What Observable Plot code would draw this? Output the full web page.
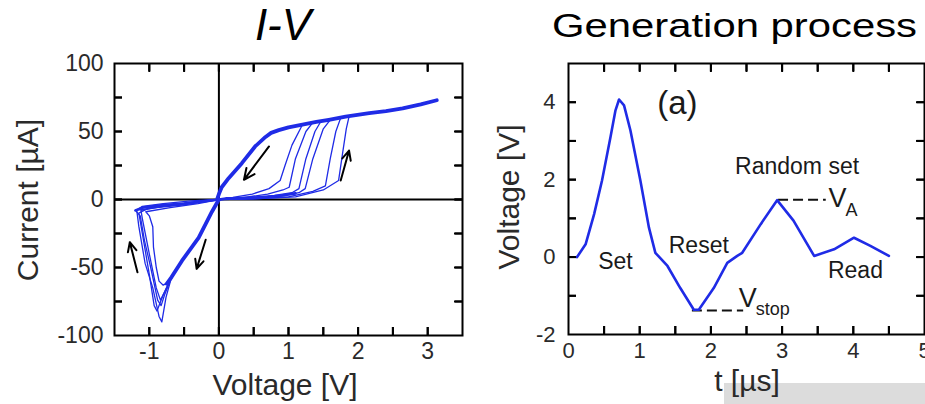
<!DOCTYPE html>
<html><head><meta charset="utf-8">
<script src="https://cdn.jsdelivr.net/npm/d3@7"></script>
<script src="https://cdn.jsdelivr.net/npm/@observablehq/plot@0.6"></script>
<style>
html,body{margin:0;padding:0;background:#fff;}
#wrap{position:relative;width:925px;height:404px;overflow:hidden;background:#fff;font-family:"Liberation Sans",Arial,Helvetica,sans-serif;}
.abs{position:absolute;}
.lbl{position:absolute;white-space:nowrap;color:#2a2a2a;font-size:30px;line-height:30px;transform:translate(-50%,-50%);}
.rot{transform:translate(-50%,-50%) rotate(-90deg);}
</style></head><body>
<div id="wrap">
  <div class="abs" style="left:724px;top:383px;width:201px;height:21px;background:#dcdcdc"></div>
  <svg class="abs" style="left:0;top:0" width="925" height="52">
    <text x="283" y="40" font-family="Liberation Sans, Arial, sans-serif" font-style="italic" font-size="44" text-anchor="middle" fill="#000">I-V</text>
    <text x="552" y="37" font-family="Liberation Sans, Arial, sans-serif" font-size="34" textLength="365" lengthAdjust="spacingAndGlyphs" fill="#000">Generation process</text>
  </svg>
  <div id="left" class="abs" style="left:0;top:40px"></div>
  <div id="right" class="abs" style="left:480px;top:40px"></div>
  <div class="lbl rot" style="left:28px;top:200px">Current [µA]</div>
  <div class="lbl" style="left:285px;top:385px">Voltage [V]</div>
  <div class="lbl rot" style="left:509px;top:197px">Voltage [V]</div>
  <div class="lbl" style="left:747px;top:381px">t [µs]</div>
</div>
<script>
// ---------- Left panel: I-V hysteresis (V in volts, I in µA) ----------
const upperBranch = [[3.13,73],[2.9,70],[2.64,67],[2.4,65],[2.16,63.5],[1.82,61],[1.58,58.6],[1.4,57],[1.2,55],[1.0,53],[0.86,51],[0.75,49],[0.67,46],[0.52,39],[0.33,26.7],[0.14,15.7],[0.04,9],[0,4],[-0.02,1],[0,0]];
const lowBranch = [[0,0],[0.1,0.8],[0.3,1],[0.5,1.5],[0.7,2],[0.9,3],[1.1,4.5]];
const negDiagonal = [[0,0],[-0.1,-9],[-0.29,-28],[-0.53,-45],[-0.68,-57],[-0.75,-62]];
const negReturn = [[-1.2,-8],[-1.1,-6],[-0.8,-4],[-0.5,-3],[-0.25,-1.5],[0,0]];

const setLoop1 = [[0,0],[0.2,1.5],[0.48,4],[0.72,8],[0.88,14],[0.95,25],[1.05,40],[1.2,55]];
const setLoop2 = [[0,0],[0.3,1],[0.7,4],[0.92,7],[1.01,9],[1.1,30],[1.25,50],[1.34,56]];
const setLoop3 = [[0,0],[0.4,1],[0.8,3],[1.05,5],[1.15,8],[1.25,30],[1.38,50],[1.46,57]];
const setLoop4 = [[0,0],[0.5,1],[0.9,2.5],[1.15,5],[1.24,8],[1.35,30],[1.5,52],[1.6,58.6]];
const setLoop5 = [[0,0],[0.5,0.5],[1.0,2],[1.35,6],[1.53,10],[1.6,30],[1.68,50],[1.75,60]];
const setLoop6 = [[0,0],[0.5,0.5],[1.1,2],[1.5,7],[1.72,14],[1.78,35],[1.83,52],[1.87,61]];

const resetLoop1 = [[-0.68,-57],[-0.76,-72],[-0.82,-90],[-0.86,-86],[-0.95,-65],[-1.06,-47],[-1.15,-20],[-1.18,-8],[-1.1,-5],[-0.8,-3],[-0.4,-1],[0,0]];
const resetLoop2 = [[-0.68,-57],[-0.8,-70],[-0.89,-82],[-0.93,-78],[-1.0,-55],[-1.1,-25],[-1.15,-10],[-1.0,-6],[-0.6,-4],[0,0]];
const resetLoop3 = [[-0.68,-57],[-0.78,-68],[-0.84,-74],[-0.9,-65],[-1.0,-40],[-1.1,-14],[-1.12,-8],[-0.8,-5],[-0.4,-2],[0,0]];
const resetLoop4 = [[-0.7,-60],[-0.8,-63],[-0.86,-60],[-0.9,-50],[-0.94,-35],[-0.95,-20],[-1.0,-12],[-1.05,-9],[-0.7,-6],[-0.3,-3],[0,0]];
const resetLoop5 = [[-0.7,-60],[-0.78,-70],[-0.83,-78],[-0.88,-74],[-0.98,-50],[-1.07,-30],[-1.13,-12],[-1.2,-8],[-0.9,-6],[-0.5,-4],[0,0]];

const arrowStartV = [0.72,1.75,-1.17,-0.19];
const arrowStartI = [39,14,-53.5,-29.6];
const arrowEndV = [0.36,1.87,-1.28,-0.32];
const arrowEndI = [14.5,36,-31.4,-51];

const leftTicksX = [-1,-0.5,0,0.5,1,1.5,2,2.5,3];
const leftLabelsX = [-1,0,1,2,3];
const leftTicksY = [-75,-50,-25,0,25,50,75];
const leftLabelsY = [-100,-50,0,50,100];

// ---------- Right panel: generation pulse ----------
const pulseT = [0.12,0.24,0.36,0.47,0.59,0.66,0.71,0.78,0.87,1.01,1.13,1.22,1.39,1.57,1.76,1.83,2.04,2.23,2.37,2.44,2.70,2.93,3.16,3.45,3.73,4.01,4.24,4.5];
const pulseV = [0,0.33,1.11,1.97,3.1,3.79,4.07,3.92,3.27,1.97,0.76,0.11,-0.23,-0.8,-1.36,-1.36,-0.8,-0.15,0.03,0.11,0.85,1.47,0.94,0.03,0.2,0.5,0.29,0.03];

const levelNames = ["VA","Vstop"];
const levelV = [1.48,-1.38];
const levelT1 = [2.95,1.74];
const levelT2 = [3.62,2.46];

const labelText = ["Set","Reset","Random set","Read","(a)"];
const labelT = [0.66,1.83,3.21,4.03,1.53];
const labelV = [-0.13,0.29,2.34,-0.36,3.97];

const symText = ["V","A","V","stop"];
const symT = [3.65,3.89,2.39,2.63];
const symV = [1.51,1.22,-1.07,-1.36];

const rightTicksX = [0.5,1,1.5,2,2.5,3,3.5,4,4.5];
const rightLabelsX = [0,1,2,3,4,5];
const rightTicksY = [-1,0,1,2,3,4];
const rightLabelsY = [-2,0,2,4];

// ---------- build tables ----------
const BLUE = "#1f2be6";
const INK = "#2a2a2a";
const FONT = "Liberation Sans, Arial, Helvetica, sans-serif";
const toRows = (name, pts) => pts.map(([v, i]) => ({name, v, i}));
const thinRows = [
  ["s1", setLoop1],["s2", setLoop2],["s3", setLoop3],["s4", setLoop4],["s5", setLoop5],["s6", setLoop6],
  ["r1", resetLoop1],["r2", resetLoop2],["r3", resetLoop3],["r4", resetLoop4],["r5", resetLoop5]
].flatMap(([n, p]) => toRows(n, p));
const thickRows = [["up", upperBranch],["nd", negDiagonal]].flatMap(([n, p]) => toRows(n, p));
const midRows = [["lo", lowBranch],["nr", negReturn]].flatMap(([n, p]) => toRows(n, p));
const arrowRows = arrowStartV.map((v, k) => ({v1: v, i1: arrowStartI[k], v2: arrowEndV[k], i2: arrowEndI[k]}));

// inward frame ticks (short rules + inward axis ticks) and outside labels
const blank = () => "";
function frameAxes(xd, yd, size, tx, ty, lx, ly, padX, padY, fs, L) {
  const [w, h] = size;
  const kx = L * (xd[1] - xd[0]) / w, ky = L * (yd[1] - yd[0]) / h;
  const st = {stroke: "#000", strokeWidth: 2};
  const ax = {tickSize: -L, tickFormat: blank, label: null, stroke: "#000", strokeWidth: 2};
  return [
    Plot.ruleX(tx, {x: d => d, y1: () => yd[0], y2: () => yd[0] + ky, ...st}),
    Plot.ruleX(tx, {x: d => d, y1: () => yd[1], y2: () => yd[1] - ky, ...st}),
    Plot.ruleY(ty, {y: d => d, x1: () => xd[0], x2: () => xd[0] + kx, ...st}),
    Plot.ruleY(ty, {y: d => d, x1: () => xd[1], x2: () => xd[1] - kx, ...st}),
    Plot.axisX(tx, {anchor: "bottom", ...ax}),
    Plot.axisX(tx, {anchor: "top", ...ax}),
    Plot.axisY(ty, {anchor: "left", ...ax}),
    Plot.axisY(ty, {anchor: "right", ...ax}),
    Plot.axisX(lx, {anchor: "bottom", tickSize: 0, tickPadding: padX, label: null, fontSize: fs, fill: INK, tickFormat: d => String(d)}),
    Plot.axisY(ly, {anchor: "left", tickSize: 0, tickPadding: padY, label: null, fontSize: fs, fill: INK, tickFormat: d => String(d)}),
    Plot.frame({stroke: "#000", strokeWidth: 2})
  ];
}

const leftX = [-1.5, 3.5], leftY = [-100, 100];
const left = Plot.plot({
  width: 470, height: 364,
  marginLeft: 114, marginRight: 8, marginTop: 23, marginBottom: 69,
  x: {domain: leftX, axis: null},
  y: {domain: leftY, axis: null},
  style: {fontFamily: FONT, background: "transparent", overflow: "visible"},
  marks: [
    Plot.ruleX([0], {stroke: "#000", strokeWidth: 2}),
    Plot.ruleY([0], {stroke: "#000", strokeWidth: 2}),
    Plot.line(thinRows, {x: "v", y: "i", z: "name", stroke: BLUE, strokeWidth: 1.3}),
    Plot.line(midRows, {x: "v", y: "i", z: "name", stroke: BLUE, strokeWidth: 2.6}),
    Plot.line(thickRows, {x: "v", y: "i", z: "name", stroke: BLUE, strokeWidth: 3.8}),
    Plot.arrow(arrowRows, {x1: "v1", y1: "i1", x2: "v2", y2: "i2", stroke: "#000", strokeWidth: 2, headLength: 9, headAngle: 50}),
    ...frameAxes(leftX, leftY, [470 - 114 - 8, 364 - 23 - 69], leftTicksX, leftTicksY, leftLabelsX, leftLabelsY, 7, 11, 23, 8)
  ]
});
document.getElementById("left").appendChild(left);

const pulseRows = pulseT.map((t, k) => ({t, v: pulseV[k]}));
const levelRows = levelNames.map((n, k) => ({n, v: levelV[k], t1: levelT1[k], t2: levelT2[k]}));
const labelRows = labelText.map((s, k) => ({s, t: labelT[k], v: labelV[k]}));
const symRows = symText.map((s, k) => ({s, t: symT[k], v: symV[k], sub: k % 2 === 1}));

const rightX = [0, 5], rightY = [-2, 5];
const right = Plot.plot({
  width: 445, height: 364,
  marginLeft: 88, marginRight: 1, marginTop: 23, marginBottom: 70,
  x: {domain: rightX, axis: null},
  y: {domain: rightY, axis: null},
  style: {fontFamily: FONT, background: "transparent", overflow: "visible"},
  marks: [
    Plot.ruleY(levelRows, {y: "v", x1: "t1", x2: "t2", stroke: "#111", strokeWidth: 2, strokeDasharray: "10,5"}),
    Plot.line(pulseRows, {x: "t", y: "v", stroke: BLUE, strokeWidth: 2.6}),
    Plot.text(labelRows.slice(0, 4), {x: "t", y: "v", text: "s", fontSize: 23, fill: "#1a1a1a", textAnchor: "middle", lineAnchor: "middle"}),
    Plot.text(labelRows.slice(4), {x: "t", y: "v", text: "s", fontSize: 33, fill: "#1a1a1a", textAnchor: "middle", lineAnchor: "middle"}),
    Plot.text(symRows.filter(d => !d.sub), {x: "t", y: "v", text: "s", fontSize: 27, fill: "#1a1a1a", textAnchor: "start", lineAnchor: "middle"}),
    Plot.text(symRows.filter(d => d.sub), {x: "t", y: "v", text: "s", fontSize: 18, fill: "#1a1a1a", textAnchor: "start", lineAnchor: "middle"}),
    ...frameAxes(rightX, rightY, [445 - 88 - 1, 364 - 23 - 70], rightTicksX, rightTicksY, rightLabelsX, rightLabelsY, 8, 13, 22, 8)
  ]
});
document.getElementById("right").appendChild(right);
</script>
</body></html>
